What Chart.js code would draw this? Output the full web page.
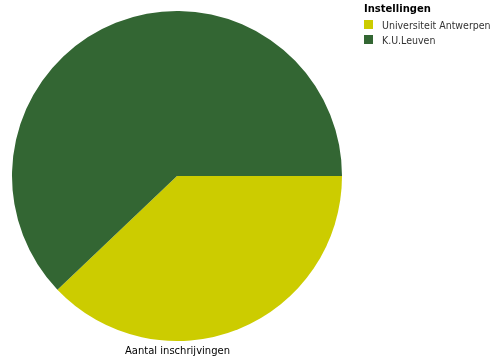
<!DOCTYPE html>
<html lang="nl">
<head>
    <meta charset="UTF-8">
    <title>Aantal inschrijvingen</title>
    <script src="https://cdn.jsdelivr.net/npm/chart.js"></script>
    <style>
        body { margin: 0; background: #fff; font-family: "DejaVu Sans", Verdana, sans-serif; }
        .wrap { position: relative; width: 495px; height: 363px; }
        .legend { position: absolute; left: 364px; top: 3px; font-size: 10px; color: #333; white-space: nowrap; }
        .legend .title { font-weight: bold; color: #000; margin-bottom: 3px; }
        .legend .item { display: flex; align-items: center; height: 15px; font-stretch: condensed; font-size: 10.5px; }
        .legend .box { width: 9px; height: 9px; margin-right: 9px; flex: none; }
        .caption { position: absolute; left: 0; width: 355px; top: 345px; text-align: center; font-size: 10px; color: #000; }
    </style>
</head>
<body>
<div class="wrap">
    <canvas id="pieChart" width="495" height="363"></canvas>
    <div class="legend" id="legend"></div>
    <div class="caption">Aantal inschrijvingen</div>
</div>
<script>
    // Instellingen en aandeel inschrijvingen
    const instellingen = ['Universiteit Antwerpen', 'K.U.Leuven'];
    const inschrijvingen = [37.9, 62.1];
    const kleuren = ['#cccc00', '#336633'];

    // legende
    const legend = document.getElementById('legend');
    legend.innerHTML = '<div class="title">Instellingen</div>';
    instellingen.forEach((naam, i) => {
        const item = document.createElement('div');
        item.className = 'item';
        item.innerHTML = '<span class="box" style="background:' + kleuren[i] + '"></span>' + naam;
        legend.appendChild(item);
    });

    new Chart(document.getElementById('pieChart'), {
        type: 'pie',
        data: {
            labels: instellingen,
            datasets: [{
                data: inschrijvingen,
                backgroundColor: kleuren,
                borderWidth: 0
            }]
        },
        options: {
            responsive: false,
            animation: false,
            rotation: 90,
            layout: { padding: { left: 12, right: 153, top: 11, bottom: 22 } },
            plugins: {
                legend: { display: false },
                tooltip: { enabled: false }
            }
        }
    });
</script>
</body>
</html>
